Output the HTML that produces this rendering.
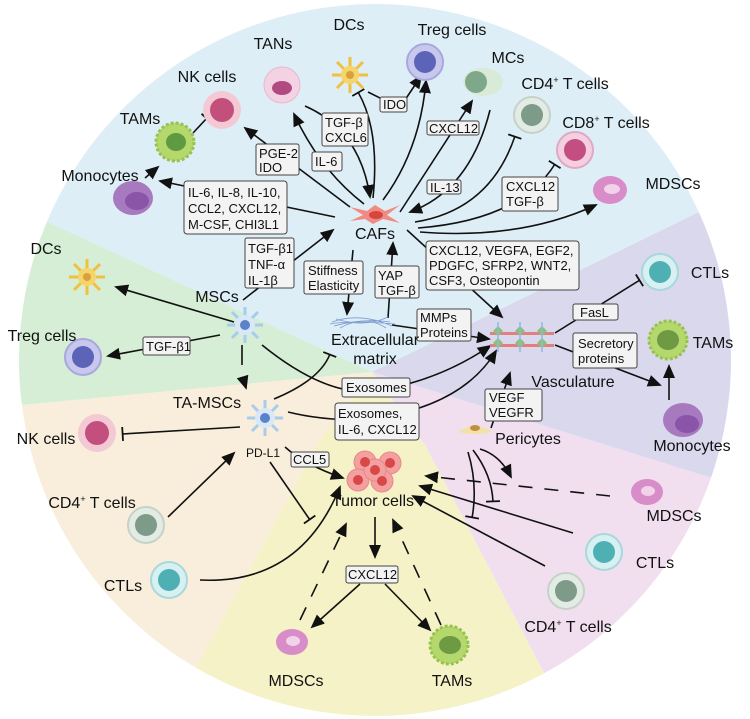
<!DOCTYPE html>
<html><head><meta charset="utf-8"><style>
html,body{margin:0;padding:0;background:#fff;}
svg{display:block;font-family:"Liberation Sans",sans-serif;}
.l{font-size:16px;fill:#111;}
.b{font-size:13px;fill:#111;}
.bx{fill:#f3f3f3;stroke:#444;stroke-width:1;}
.ln{fill:none;stroke:#111;stroke-width:1.6;}
.ds{fill:none;stroke:#111;stroke-width:1.6;stroke-dasharray:14 12;}
</style></head><body>
<svg width="750" height="719" viewBox="0 0 750 719">
<defs>
<clipPath id="c"><circle cx="375" cy="360" r="356"/></clipPath>
<marker id="a" markerWidth="14" markerHeight="12" refX="12" refY="6" orient="auto" markerUnits="userSpaceOnUse"><path d="M0,0 L14,6 L0,12 z" fill="#111"/></marker>
<marker id="t" markerWidth="4" markerHeight="14" refX="2" refY="7" orient="auto" markerUnits="userSpaceOnUse"><rect x="0.5" y="0" width="1.8" height="14" fill="#111"/></marker>
</defs>
<g clip-path="url(#c)">
<polygon points="372,372 0,200 0,0 750,0 750,187" fill="#deeef7"/>
<polygon points="372,372 750,187 750,490" fill="#dad8ed"/>
<polygon points="372,372 750,490 750,719 568,719 425,445" fill="#f1dff0"/>
<polygon points="372,372 425,445 568,719 168,719 320,440" fill="#f5f2c7"/>
<polygon points="372,372 320,440 168,719 0,719 0,407" fill="#f9eedb"/>
<polygon points="372,372 0,407 0,200" fill="#d5eed5"/>
</g>

<g>
<path class="ln" d="M350,207 L245,128" marker-end="url(#a)"/>
<path class="ln" d="M364,204 Q320,170 294,114" marker-end="url(#a)"/>
<path class="ln" d="M305,106 Q360,130 370,197" marker-end="url(#a)"/>
<path class="ln" d="M335,217 L160,181" marker-end="url(#a)"/>
<path class="ln" d="M145,178 L158,167" marker-end="url(#a)"/>
<path class="ln" d="M193,133 L207,118" marker-end="url(#t)"/>
<path class="ln" d="M243,300 L333,230" marker-end="url(#a)"/>
<path class="ln" d="M353,250 L347,314" marker-end="url(#a)"/>
<path class="ln" d="M388,318 L393,243" marker-end="url(#a)"/>
<path class="ln" d="M373,198 Q380,130 358,92" marker-end="url(#t)"/>
<path class="ln" d="M368,92 L384,100 M405,100 L421,76" marker-end="url(#a)"/>
<path class="ln" d="M383,200 Q420,150 426,81" marker-end="url(#a)"/>
<path class="ln" d="M400,212 L472,101" marker-end="url(#a)"/>
<path class="ln" d="M490,110 Q470,190 410,212" marker-end="url(#a)"/>
<path class="ln" d="M415,222 Q490,210 515,136" marker-end="url(#t)"/>
<path class="ln" d="M418,228 Q520,220 555,164" marker-end="url(#t)"/>
<path class="ln" d="M420,232 Q520,240 596,205" marker-end="url(#a)"/>
<path class="ln" d="M407,230 L502,317" marker-end="url(#a)"/>
<path class="ln" d="M392,325 L489,339" marker-end="url(#a)"/>
<path class="ln" d="M555,333 L640,280" marker-end="url(#t)"/>
<path class="ln" d="M555,345 L660,385" marker-end="url(#a)"/>
<path class="ln" d="M669,400 L669,366" marker-end="url(#a)"/>
<path class="ln" d="M234,322 L116,287" marker-end="url(#a)"/>
<path class="ln" d="M220,335 L108,356" marker-end="url(#a)"/>
<path class="ln" d="M242,345 L242,365 M243,378 L246,388" marker-end="url(#a)"/>
<path class="ln" d="M262,345 Q330,400 380,390 Q440,380 490,346" marker-end="url(#a)"/>
<path class="ln" d="M274,399 Q320,380 330,354" marker-end="url(#t)"/>
<path class="ln" d="M288,412 Q320,420 360,420 Q460,410 496,351" marker-end="url(#a)"/>
<path class="ln" d="M240,427 L122,434" marker-end="url(#t)"/>
<path class="ln" d="M168,517 L234,453" marker-end="url(#a)"/>
<path class="ln" d="M285,447 Q305,465 343,478" marker-end="url(#a)"/>
<path class="ln" d="M270,462 L310,520" marker-end="url(#t)"/>
<path class="ln" d="M200,580 Q300,585 340,487" marker-end="url(#a)"/>
<path class="ln" d="M491,428 L510,373" marker-end="url(#a)"/>
<path class="ln" d="M480,449 Q500,455 511,477" marker-end="url(#a)"/>
<path class="ln" d="M473,450 Q492,475 493,502" marker-end="url(#t)"/>
<path class="ln" d="M468,452 Q478,485 472,518" marker-end="url(#t)"/>
<path class="ds" d="M610,496 L426,476" marker-end="url(#a)"/>
<path class="ln" d="M573,533 L420,486" marker-end="url(#a)"/>
<path class="ln" d="M545,566 L413,496" marker-end="url(#a)"/>
<path class="ln" d="M375,517 L375,557" marker-end="url(#a)"/>
<path class="ln" d="M360,584 L312,627" marker-end="url(#a)"/>
<path class="ln" d="M385,584 L430,630" marker-end="url(#a)"/>
<path class="ds" d="M300,620 L346,524" marker-end="url(#a)"/>
<path class="ds" d="M441,625 L393,520" marker-end="url(#a)"/>
</g>

<g>
<g transform="translate(350,75)" stroke="#f0c040" stroke-width="3"><path d="M-18,0H18M0,-18V18M-13,-13L13,13M-13,13L13,-13"/><circle r="9" fill="#f5d56a" stroke="none"/><circle r="4" fill="#d9a040" stroke="none"/></g>
<circle cx="282" cy="85" r="18" fill="#f3d3e3" stroke="#e6b8d0"/><ellipse cx="282" cy="88" rx="10" ry="7" fill="#b04a80"/>
<circle cx="222" cy="110" r="19" fill="#f3c9d4"/><circle cx="222" cy="110" r="12" fill="#c24f7c"/>
<circle cx="175" cy="142" r="19" fill="#b4d86c" stroke="#98c250" stroke-width="3" stroke-dasharray="3 2"/><ellipse cx="176" cy="142" rx="10" ry="9" fill="#5f9a40"/>
<ellipse cx="133" cy="198" rx="20" ry="17" fill="#a77ac0"/><ellipse cx="137" cy="201" rx="12" ry="9" fill="#8a55a8"/>
<circle cx="425" cy="62" r="18" fill="#c8c8ee" stroke="#a8a8dc" stroke-width="2"/><circle cx="425" cy="62" r="11" fill="#5c64b8"/>
<ellipse cx="483" cy="82" rx="20" ry="14" fill="#d8ead8"/><circle cx="476" cy="82" r="11" fill="#7fa88a"/>
<circle cx="532" cy="115" r="18" fill="#e3ebe5" stroke="#c5d2c8" stroke-width="2"/><circle cx="532" cy="115" r="11" fill="#7e9a88"/>
<circle cx="575" cy="150" r="18" fill="#f3cfe0" stroke="#e0a8c4" stroke-width="2"/><circle cx="575" cy="150" r="11" fill="#c34e82"/>
<ellipse cx="610" cy="190" rx="17" ry="14" fill="#d88cc8"/><ellipse cx="612" cy="189" rx="8" ry="5" fill="#f2d2ea"/>
<g transform="translate(375,215)"><path d="M-25,-8 L-8,-4 L0,-10 L10,-4 L25,-10 L12,0 L25,8 L8,4 L-2,9 L-10,4 L-25,6 L-12,0z" fill="#f08a82"/><ellipse cx="1" cy="0" rx="7" ry="4" fill="#d6453e"/></g>
<g stroke="#7a9ad0" stroke-width="0.8" fill="none"><path d="M332,322 Q360,312 392,326 M334,326 Q362,318 390,322 M336,319 Q365,328 388,317 M340,328 Q365,314 386,328 M330,324 Q350,320 395,324"/></g>
<g><rect x="490" y="332" width="64" height="3" fill="#e08080"/><rect x="490" y="344" width="64" height="3" fill="#e08080"/>
<g fill="#8cc070"><path d="M498,326 l5,5 -5,5 -5,-5z M520,326 l5,5 -5,5 -5,-5z M542,326 l5,5 -5,5 -5,-5z M498,338 l5,5 -5,5 -5,-5z M520,338 l5,5 -5,5 -5,-5z M542,338 l5,5 -5,5 -5,-5z"/></g>
<g stroke="#90b8e0" stroke-width="1.5"><path d="M498,322V352M520,322V352M542,322V352"/></g></g>
<circle cx="660" cy="272" r="18" fill="#d7f0f2" stroke="#a8d8dc" stroke-width="2"/><circle cx="660" cy="272" r="11" fill="#4fb0b4"/>
<circle cx="668" cy="340" r="19" fill="#b4d86c" stroke="#98c250" stroke-width="3" stroke-dasharray="3 2"/><ellipse cx="668" cy="340" rx="11" ry="10" fill="#6e9a44"/>
<ellipse cx="683" cy="420" rx="20" ry="17" fill="#a77ac0"/><ellipse cx="687" cy="424" rx="12" ry="9" fill="#8a55a8"/>
<path d="M458,432 Q475,420 492,432 Q475,436 458,432z" fill="#f2e2a8"/><ellipse cx="475" cy="428" rx="5" ry="3" fill="#c09040"/>
<ellipse cx="647" cy="492" rx="16" ry="13" fill="#d88cc8"/><ellipse cx="648" cy="491" rx="7" ry="5" fill="#f2d2ea"/>
<circle cx="604" cy="552" r="18" fill="#d7f0f2" stroke="#a8d8dc" stroke-width="2"/><circle cx="604" cy="552" r="11" fill="#4fb0b4"/>
<circle cx="566" cy="591" r="18" fill="#e3ebe5" stroke="#c5d2c8" stroke-width="2"/><circle cx="566" cy="591" r="11" fill="#7e9a88"/>
<circle cx="449" cy="645" r="19" fill="#b4d86c" stroke="#98c250" stroke-width="3" stroke-dasharray="3 2"/><ellipse cx="450" cy="645" rx="11" ry="9" fill="#6e9a44"/>
<ellipse cx="292" cy="642" rx="16" ry="13" fill="#d88cc8"/><ellipse cx="293" cy="641" rx="7" ry="5" fill="#f2d2ea"/>
<g fill="#f4a0a0" stroke="#e88888"><circle cx="365" cy="462" r="11"/><circle cx="390" cy="463" r="11"/><circle cx="358" cy="480" r="11"/><circle cx="382" cy="481" r="11"/><circle cx="375" cy="470" r="11"/></g>
<g fill="#d84848"><circle cx="365" cy="462" r="5"/><circle cx="390" cy="463" r="5"/><circle cx="358" cy="480" r="5"/><circle cx="382" cy="481" r="5"/><circle cx="375" cy="470" r="5"/></g>
<g transform="translate(87,277)" stroke="#f0c040" stroke-width="3"><path d="M-18,0H18M0,-18V18M-13,-13L13,13M-13,13L13,-13"/><circle r="9" fill="#f5d56a" stroke="none"/><circle r="4" fill="#d9a040" stroke="none"/></g>
<circle cx="83" cy="357" r="18" fill="#c8c8ee" stroke="#a8a8dc" stroke-width="2"/><circle cx="83" cy="357" r="11" fill="#5c64b8"/>
<g transform="translate(245,325)" stroke="#a8ccec" stroke-width="3"><path d="M-18,0H18M0,-18V18M-13,-13L13,13M-13,13L13,-13"/><circle r="10" fill="#d8e8f8" stroke="none"/><circle r="5" fill="#5a82c8" stroke="none"/></g>
<g transform="translate(265,418)" stroke="#a8ccec" stroke-width="3"><path d="M-18,0H18M0,-18V18M-13,-13L13,13M-13,13L13,-13"/><circle r="10" fill="#d8e8f8" stroke="none"/><circle r="5" fill="#5a82c8" stroke="none"/></g>
<circle cx="97" cy="433" r="19" fill="#f3c9d4"/><circle cx="97" cy="433" r="12" fill="#c24f7c"/>
<circle cx="146" cy="525" r="18" fill="#e3ebe5" stroke="#c5d2c8" stroke-width="2"/><circle cx="146" cy="525" r="11" fill="#7e9a88"/>
<circle cx="169" cy="580" r="18" fill="#d7f0f2" stroke="#a8d8dc" stroke-width="2"/><circle cx="169" cy="580" r="11" fill="#4fb0b4"/>
</g>

<g>
<rect class="bx" x="380" y="97" width="27" height="15" rx="2"/><text class="b" x="383" y="109">IDO</text>
<rect class="bx" x="322" y="113" width="46" height="33" rx="2"/><text class="b" x="325" y="127">TGF-β</text><text class="b" x="325" y="142">CXCL6</text>
<rect class="bx" x="312" y="152" width="30" height="19" rx="2"/><text class="b" x="315" y="166">IL-6</text>
<rect class="bx" x="256" y="144" width="43" height="31" rx="2"/><text class="b" x="259" y="158">PGE-2</text><text class="b" x="259" y="172">IDO</text>
<rect class="bx" x="184" y="181" width="103" height="53" rx="3"/><text class="b" x="188" y="197">IL-6, IL-8, IL-10,</text><text class="b" x="188" y="213">CCL2, CXCL12,</text><text class="b" x="188" y="229">M-CSF, CHI3L1</text>
<rect class="bx" x="245" y="238" width="49" height="50" rx="2"/><text class="b" x="248" y="253">TGF-β1</text><text class="b" x="248" y="269">TNF-α</text><text class="b" x="248" y="285">IL-1β</text>
<rect class="bx" x="304" y="261" width="59" height="33" rx="2"/><text class="b" x="308" y="275">Stiffness</text><text class="b" x="308" y="290">Elasticity</text>
<rect class="bx" x="375" y="266" width="44" height="32" rx="2"/><text class="b" x="378" y="280">YAP</text><text class="b" x="378" y="295">TGF-β</text>
<rect class="bx" x="427" y="121" width="52" height="14" rx="2"/><text class="b" x="429" y="133">CXCL12</text>
<rect class="bx" x="427" y="180" width="34" height="14" rx="2"/><text class="b" x="430" y="192">IL-13</text>
<rect class="bx" x="502" y="177" width="56" height="34" rx="2"/><text class="b" x="506" y="191">CXCL12</text><text class="b" x="506" y="206">TGF-β</text>
<rect class="bx" x="426" y="241" width="153" height="49" rx="3"/><text class="b" x="429" y="255">CXCL12, VEGFA, EGF2,</text><text class="b" x="429" y="270">PDGFC, SFRP2, WNT2,</text><text class="b" x="429" y="285">CSF3, Osteopontin</text>
<rect class="bx" x="417" y="309" width="54" height="32" rx="2"/><text class="b" x="420" y="322">MMPs</text><text class="b" x="420" y="337">Proteins</text>
<rect class="bx" x="573" y="304" width="45" height="16" rx="2"/><text class="b" x="580" y="317">FasL</text>
<rect class="bx" x="573" y="333" width="64" height="35" rx="2"/><text class="b" x="578" y="348">Secretory</text><text class="b" x="578" y="363">proteins</text>
<rect class="bx" x="143" y="337" width="47" height="18" rx="2"/><text class="b" x="146" y="351">TGF-β1</text>
<rect class="bx" x="342" y="378" width="68" height="19" rx="2"/><text class="b" x="346" y="392">Exosomes</text>
<rect class="bx" x="335" y="403" width="84" height="37" rx="3"/><text class="b" x="338" y="418">Exosomes,</text><text class="b" x="338" y="434">IL-6, CXCL12</text>
<rect class="bx" x="485" y="389" width="57" height="32" rx="2"/><text class="b" x="489" y="402">VEGF</text><text class="b" x="489" y="417">VEGFR</text>
<rect class="bx" x="291" y="452" width="38" height="15" rx="2"/><text class="b" x="293" y="464">CCL5</text>
<rect class="bx" x="346" y="566" width="52" height="17" rx="2"/><text class="b" x="348" y="579">CXCL12</text>
</g>

<g class="l" text-anchor="middle">
<text x="349" y="30">DCs</text>
<text x="273" y="49">TANs</text>
<text x="207" y="82">NK cells</text>
<text x="140" y="124">TAMs</text>
<text x="100" y="181">Monocytes</text>
<text x="452" y="35">Treg cells</text>
<text x="508" y="63">MCs</text>
<text x="565" y="89">CD4<tspan font-size="9" dy="-6">+</tspan><tspan dy="6"> T cells</tspan></text>
<text x="606" y="128">CD8<tspan font-size="9" dy="-6">+</tspan><tspan dy="6"> T cells</tspan></text>
<text x="673" y="189">MDSCs</text>
<text x="375" y="239">CAFs</text>
<text x="375" y="345">Extracellular</text>
<text x="375" y="364">matrix</text>
<text x="573" y="387">Vasculature</text>
<text x="528" y="444">Pericytes</text>
<text x="710" y="278">CTLs</text>
<text x="713" y="348">TAMs</text>
<text x="692" y="451">Monocytes</text>
<text x="674" y="521">MDSCs</text>
<text x="655" y="568">CTLs</text>
<text x="568" y="632">CD4<tspan font-size="9" dy="-6">+</tspan><tspan dy="6"> T cells</tspan></text>
<text x="452" y="686">TAMs</text>
<text x="296" y="686">MDSCs</text>
<text x="373" y="506">Tumor cells</text>
<text x="207" y="408">TA-MSCs</text>
<text x="263" y="457" font-size="12">PD-L1</text>
<text x="46" y="444">NK cells</text>
<text x="92" y="508">CD4<tspan font-size="9" dy="-6">+</tspan><tspan dy="6"> T cells</tspan></text>
<text x="123" y="591">CTLs</text>
<text x="217" y="302">MSCs</text>
<text x="46" y="254">DCs</text>
<text x="42" y="341">Treg cells</text>
</g>
</svg>
</body></html>
